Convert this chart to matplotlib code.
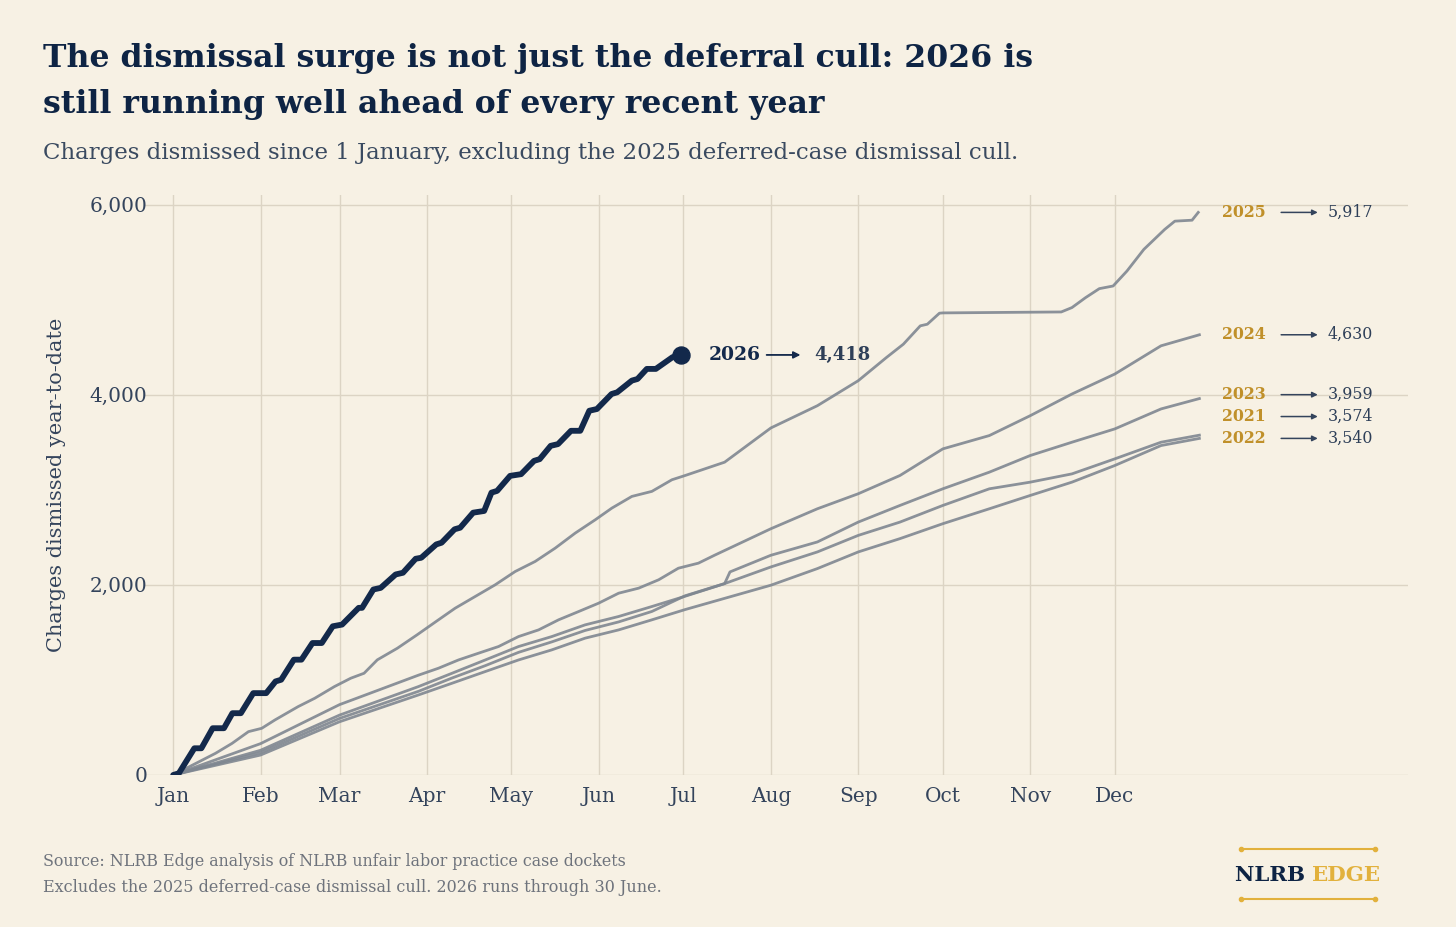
import matplotlib

matplotlib.use("Agg")
import matplotlib.pyplot as plt

# ---- data (day of year, charges dismissed year-to-date) ----
month_days = [0, 31, 59, 90, 120, 151, 181, 212, 243, 273, 304, 334]
month_labels = ["Jan", "Feb", "Mar", "Apr", "May", "Jun",
                "Jul", "Aug", "Sep", "Oct", "Nov", "Dec"]
y_ticks = [0, 2000, 4000, 6000]

days_2026 = [0, 2, 7.5, 10, 14, 18, 21, 24, 28.4, 33, 36.3, 38.3, 42.8, 45.5,
             49.4, 52.7, 56.6, 59.9, 65.8, 67, 71, 73.6, 78.9, 81.5, 86, 88,
             93.3, 95.2, 99.8, 101.8, 106.4, 110.3, 112.9, 114.9, 119.5, 123.4,
             128, 130, 133.9, 136.5, 141.1, 144.4, 147.6, 150.3, 155.5, 157.5,
             162.7, 164.7, 168, 171.2, 177.1, 180]
vals_2026 = [0, 18, 281, 281, 492, 492, 650, 650, 861, 861, 984, 1002, 1213,
             1213, 1388, 1388, 1564, 1582, 1758, 1758, 1951, 1968, 2109, 2127,
             2274, 2285, 2425, 2443, 2584, 2601, 2759, 2777, 2970, 2988, 3146,
             3164, 3304, 3322, 3462, 3480, 3620, 3620, 3831, 3849, 4007, 4025,
             4148, 4165, 4271, 4271, 4394, 4418]

days_2025 = [0, 15, 20.9, 26.7, 31.4, 36.1, 44.3, 50.2, 57.2, 63, 67.7, 72.4,
             79.5, 86.5, 94.1, 100, 107.1, 114.2, 121.3, 128.4, 135.5, 142.6,
             149.7, 155.6, 162.7, 169.8, 176.9, 181.6, 195.6, 212, 228.5, 243,
             253, 259, 265, 267.5, 271.8, 273, 315, 318.8, 323.6, 328.5, 333.4,
             338.3, 344.3, 351.7, 355.3, 361.4, 363.6]
vals_2025 = [0, 228, 333, 456, 491, 579, 719, 807, 930, 1018, 1070, 1211,
             1333, 1474, 1632, 1754, 1877, 2000, 2140, 2246, 2386, 2544,
             2684, 2807, 2930, 2983, 3105, 3150, 3290, 3650, 3884, 4147,
             4391, 4531, 4724, 4741, 4857, 4860, 4870, 4916, 5020, 5115, 5143,
             5300, 5528, 5738, 5825, 5835, 5917]

days_2024 = [0, 31, 59, 87, 94.1, 101.2, 108.3, 115.4, 122.5, 129.6, 136.7,
             143.8, 150.9, 158, 165.1, 172.2, 179.2, 186.3, 192, 212, 228.5, 243,
             257.8, 273, 289.5, 304, 318.8, 334, 350.4, 364]
vals_2024 = [0, 330, 740, 1050, 1123, 1210, 1281, 1351, 1456, 1526, 1632,
             1719, 1807, 1912, 1965, 2053, 2175, 2228, 2311, 2590, 2800, 2958,
             3150, 3430, 3570, 3779, 4007, 4217, 4514, 4630]

days_2023 = [0, 31, 59, 87, 98.9, 110.7, 122.5, 134.3, 146.1, 158, 169.8, 181.6,
             195.6, 197.5, 212, 228.5, 243, 257.8, 273, 289.5, 304, 318.8, 334,
             350.4, 364]
vals_2023 = [0, 260, 630, 930, 1070, 1210, 1351, 1456, 1579, 1667, 1772, 1880,
             2013, 2136, 2311, 2451, 2660, 2835, 3010, 3185, 3360, 3500, 3640,
             3850, 3959]

days_2021 = [0, 31, 59, 87, 98.9, 110.7, 122.5, 134.3, 146.1, 158, 169.8, 181.6,
             195.6, 212, 228.5, 243, 257.8, 273, 289.5, 304, 318.8, 334, 350.4,
             364]
vals_2021 = [0, 235, 595, 880, 1020, 1150, 1290, 1400, 1520, 1610, 1720, 1885,
             2013, 2188, 2346, 2520, 2660, 2835, 3010, 3080, 3167, 3325, 3500,
             3574]

days_2022 = [0, 31, 59, 87, 98.9, 110.7, 122.5, 134.3, 146.1, 158, 169.8, 181.6,
             212, 228.5, 243, 257.8, 273, 289.5, 304, 318.8, 334, 350.4, 364]
vals_2022 = [0, 210, 560, 842, 965, 1088, 1210, 1316, 1439, 1526, 1632, 1740,
             1996, 2171, 2346, 2486, 2643, 2800, 2940, 3080, 3255, 3465, 3540]

past_years = {
    "2025": (days_2025, vals_2025),
    "2024": (days_2024, vals_2024),
    "2023": (days_2023, vals_2023),
    "2021": (days_2021, vals_2021),
    "2022": (days_2022, vals_2022),
}

# ---- style ----
BG = "#F7F1E4"
NAVY = "#13294B"
TEXT = "#34445C"
GREY = "#7F8791"
GRID = "#DCD4C4"
GOLD = "#C0902A"
LOGO_GOLD = "#E2B13C"
FONT = "DejaVu Serif"

plt.rcParams["font.family"] = FONT

W, H = 1456, 927
fig = plt.figure(figsize=(W / 100, H / 100), dpi=100, facecolor=BG)


def fx(x):
    return x / W


def fy(y):
    return 1 - y / H


ax = fig.add_axes([fx(145), fy(775), fx(1408 - 145), (775 - 195) / H])
ax.set_facecolor(BG)

for year, (d, v) in past_years.items():
    ax.plot(d, v, color=GREY, lw=2.0, alpha=0.9, solid_joinstyle="round", zorder=2)

ax.plot(days_2026, vals_2026, color=NAVY, lw=4.2, solid_joinstyle="round",
        solid_capstyle="round", zorder=4)
ax.scatter([days_2026[-1]], [vals_2026[-1]], s=150, color=NAVY, zorder=5)

ax.set_xlim(-10, 438)
ax.set_ylim(0, 6100)
ax.set_xticks(month_days)
ax.set_xticklabels(month_labels)
ax.set_yticks(y_ticks)
ax.set_yticklabels([f"{t:,}" for t in y_ticks])
ax.tick_params(axis="both", length=0, labelsize=14.5, colors=TEXT)
ax.tick_params(axis="x", pad=9)
ax.tick_params(axis="y", pad=-1.5)
ax.grid(True, color=GRID, lw=1.0, zorder=0)
for s in ax.spines.values():
    s.set_visible(False)
ax.set_ylabel("Charges dismissed year-to-date", fontsize=15, color=TEXT, labelpad=17)

# 2026 end label
end_d, end_v = days_2026[-1], vals_2026[-1]
ax.annotate("2026", (end_d, end_v), xytext=(20, 0), textcoords="offset points",
            ha="left", va="center", fontsize=13.5, fontweight="bold", color=NAVY)
ax.annotate("", xy=(end_d + 42.5, end_v), xytext=(end_d + 30.5, end_v),
            arrowprops=dict(arrowstyle="-|>", color=NAVY, lw=1.3,
                            mutation_scale=10, shrinkA=0, shrinkB=0))
ax.text(end_d + 47.5, end_v, f"{end_v:,}", ha="left", va="center",
        fontsize=13, fontweight="bold", color="#2E3F58")

# right-hand labels, nudged apart so they don't collide
finals = sorted(((v[-1], yr) for yr, (d, v) in past_years.items()))
min_gap = 230
label_y = {}
prev = None
for val, yr in finals:
    y = val if prev is None else max(val, prev + min_gap)
    label_y[yr] = y
    prev = y

for yr, (d, v) in past_years.items():
    y = label_y[yr]
    ax.text(372, y, yr, ha="left", va="center", fontsize=11.4,
            fontweight="bold", color=GOLD)
    ax.annotate("", xy=(406, y), xytext=(393, y),
                arrowprops=dict(arrowstyle="-|>", color="#34445C", lw=1.1,
                                mutation_scale=8, shrinkA=0, shrinkB=0))
    ax.text(409.5, y, f"{v[-1]:,}", ha="left", va="center", fontsize=11.4,
            color="#2E3F58")

# titles
fig.text(fx(43), fy(58), "The dismissal surge is not just the deferral cull: 2026 is",
         ha="left", va="center", fontsize=22.7, fontweight="bold", color="#0E2444")
fig.text(fx(43), fy(104), "still running well ahead of every recent year",
         ha="left", va="center", fontsize=22.7, fontweight="bold", color="#0E2444")
fig.text(fx(43), fy(153),
         "Charges dismissed since 1 January, excluding the 2025 deferred-case dismissal cull.",
         ha="left", va="center", fontsize=16.5, color="#3A4A60")

# footer
fig.text(fx(43), fy(862), "Source: NLRB Edge analysis of NLRB unfair labor practice case dockets",
         ha="left", va="center", fontsize=11.4, color="#6E737C")
fig.text(fx(43), fy(887), "Excludes the 2025 deferred-case dismissal cull. 2026 runs through 30 June.",
         ha="left", va="center", fontsize=11.5, color="#6E737C")

# logo
t1 = fig.text(fx(1235), fy(875), "NLRB ", ha="left", va="center", fontsize=15.3,
              fontweight="bold", color="#0E2444")
fig.canvas.draw()
bb = t1.get_window_extent()
fig.text(bb.x1 / W, fy(875), "EDGE", ha="left", va="center", fontsize=15.3,
         fontweight="bold", color=LOGO_GOLD)
for ly in (849, 899):
    fig.add_artist(plt.Line2D([fx(1241), fx(1375)], [fy(ly), fy(ly)],
                              color=LOGO_GOLD, lw=1.5))
    for lx in (1241, 1375):
        fig.add_artist(plt.Line2D([fx(lx)], [fy(ly)], marker="o", ms=3,
                                  color=LOGO_GOLD))

fig.savefig("out.png", dpi=100, facecolor=BG)
